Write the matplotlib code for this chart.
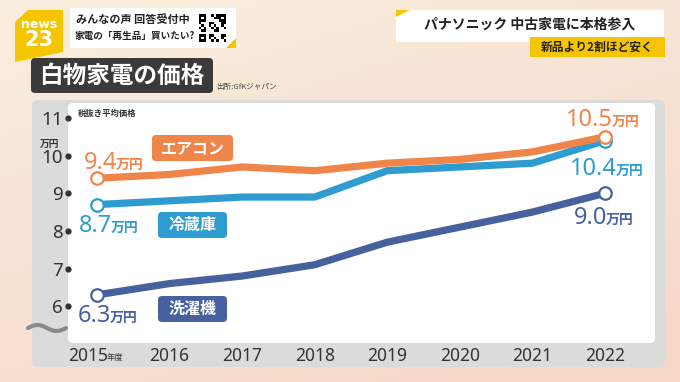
import numpy as np
import matplotlib.pyplot as plt
from matplotlib.patches import FancyBboxPatch, Polygon, Rectangle

plt.rcParams['font.family'] = ['Noto Sans CJK JP', 'DejaVu Sans']

# data (万円, 税抜き平均価格)
years = [2015, 2016, 2017, 2018, 2019, 2020, 2021, 2022]
aircon = [9.4, 9.5, 9.7, 9.6, 9.8, 9.9, 10.1, 10.5]
fridge = [8.7, 8.8, 8.9, 8.9, 9.6, 9.7, 9.8, 10.4]
washer = [6.3, 6.6, 6.8, 7.1, 7.7, 8.1, 8.5, 9.0]
yticks = [6, 7, 8, 9, 10, 11]

c_air = '#F0854A'
c_fri = '#2E9BD1'
c_was = '#47609E'
c_txt = '#333333'

fig = plt.figure(figsize=(6.8, 3.82), dpi=100)

# background in pixel coords
bg = fig.add_axes([0, 0, 1, 1])
bg.set_xlim(0, 680)
bg.set_ylim(382, 0)
bg.axis('off')
grad = np.linspace(0, 1, 200)
gx, gy = np.meshgrid(grad, grad)
t = np.clip(0.35 * gx + 0.65 * gy, 0, 1)
top = np.array([0.975, 0.935, 0.87])
bot = np.array([0.965, 0.84, 0.78])
img = top[None, None, :] * (1 - t[..., None]) + bot[None, None, :] * t[..., None]
bg.imshow(img, extent=[0, 680, 382, 0], aspect='auto', zorder=0)

# chart panel
bg.add_patch(FancyBboxPatch((32, 100), 633, 267, boxstyle='round,pad=0,rounding_size=6',
                            fc='#D9DCDB', ec='none', zorder=1))
bg.add_patch(FancyBboxPatch((68, 103), 587, 240, boxstyle='round,pad=0,rounding_size=5',
                            fc='white', ec='none', zorder=2))
wx = np.linspace(28, 66, 60)
bg.plot(wx, 328 - 3 * np.sin((wx - 28) / 38 * 2 * np.pi), color='#8A8A8A', lw=3, zorder=3,
        solid_capstyle='round')

# header: logo
bg.add_patch(Polygon([(15, 22), (28, 10), (63, 10), (63, 52), (15, 62)], closed=True,
                     fc='#F5C600', ec='none', zorder=3))
bg.text(39, 24, 'news', color='white', fontsize=9, fontweight='bold', ha='center', va='center',
        family=['DejaVu Sans'], zorder=4)
bg.text(39, 40, '23', color='white', fontsize=15, fontweight='bold', ha='center', va='center',
        family=['DejaVu Sans'], zorder=4)

# header: white box with QR
bg.add_patch(Rectangle((70, 8), 166, 40, fc='white', ec='none', zorder=3))
bg.add_patch(Polygon([(226, 48), (236, 48), (236, 38)], closed=True, fc='#F5C600', ec='none', zorder=4))
bg.text(76, 19, 'みんなの声 回答受付中', color='#222222', fontsize=8, fontweight='bold',
        va='center', zorder=4)
bg.text(75, 36, '家電の「再生品」買いたい?', color='#222222', fontsize=6.9, fontweight='bold',
        va='center', zorder=4)
qi, qj = np.indices((11, 11))
qr = ((qi * 7 + qj * 3 + qi * qj) % 5 < 2).astype(float)
for (a, b) in [(0, 0), (0, 8), (8, 0)]:
    qr[a:a + 3, b:b + 3] = 1
    qr[a + 1, b + 1] = 0
bg.imshow(1 - qr, cmap='gray', extent=[199, 226, 42, 14], interpolation='nearest', zorder=4)

# title box
bg.add_patch(FancyBboxPatch((31, 58), 182, 35, boxstyle='round,pad=0,rounding_size=4',
                            fc='#3A3A3A', ec='none', zorder=3))
bg.text(122, 75.5, '白物家電の価格', color='white', fontsize=17, fontweight='bold',
        ha='center', va='center', zorder=4)
bg.text(216, 87, '出所:GfKジャパン', color='#444444', fontsize=5.5, va='center', zorder=4)

# header right
bg.add_patch(Rectangle((396, 10), 268, 32, fc='white', ec='none', zorder=3))
bg.add_patch(Polygon([(396, 10), (410, 10), (396, 17)], closed=True, fc='#F5C600', ec='none', zorder=4))
bg.text(530, 25, 'パナソニック 中古家電に本格参入', color='#222222', fontsize=10,
        fontweight='bold', ha='center', va='center', zorder=4)
bg.add_patch(Rectangle((530, 37), 135, 20, fc='#F5C600', ec='none', zorder=4))
bg.text(597, 47, '新品より2割ほど安く', color='#222222', fontsize=8.5, fontweight='bold',
        ha='center', va='center', zorder=5)

# data axes aligned with white area
ax = fig.add_axes([68 / 680, 1 - 343 / 382, 587 / 680, 240 / 382])
ax.set_facecolor('none')
for s in ax.spines.values():
    s.set_visible(False)
ax.set_xlim(2014.6, 2022.69)
ax.set_ylim(5.02, 11.4)

for vals, col in [(washer, c_was), (fridge, c_fri), (aircon, c_air)]:
    ax.plot(years, vals, color=col, lw=5.2, solid_joinstyle='miter', zorder=3)
    ax.plot([years[0], years[-1]], [vals[0], vals[-1]], 'o', ms=9, mfc='white', mec=col,
            mew=1.6, zorder=4)

ax.set_yticks(yticks)
ax.set_yticklabels([str(v) for v in yticks], fontsize=13.5, color=c_txt, family=['Noto Sans'],
                   fontweight='medium')
ax.tick_params(axis='y', length=0, pad=3.5)
ax.plot([ax.get_xlim()[0]] * len(yticks), yticks, 'o', ms=3.5, color=c_txt, clip_on=False, zorder=5)
ax.set_xticks([])
ax.text(-0.031, 0.83, '万円', transform=ax.transAxes, fontsize=7, fontweight='bold',
        color=c_txt, ha='center', va='center')
ax.text(0.017, 0.955, '税抜き平均価格', transform=ax.transAxes, fontsize=6, fontweight='bold',
        color=c_txt, va='center')

# year labels
for y in years:
    label = str(y)
    dx = -9 if y == years[0] else 0
    ax.annotate(label, (y, 0), xycoords=('data', 'axes fraction'), xytext=(dx, -13),
                textcoords='offset pixels', ha='center', va='center', fontsize=12.5,
                color=c_txt, family=['Noto Sans'])
ax.annotate('年度', (years[0], 0), xycoords=('data', 'axes fraction'), xytext=(10, -14),
            textcoords='offset pixels', ha='left', va='center', fontsize=6, color=c_txt)


def value_label(x, v, col, dx, dy):
    ax.annotate(f'{v:.1f}', (x, v), xytext=(dx, dy), textcoords='offset pixels',
                ha='right', va='baseline', fontsize=17, color=col, family=['Noto Sans'])
    ax.annotate('万円', (x, v), xytext=(dx - 1, dy), textcoords='offset pixels',
                ha='left', va='baseline', fontsize=10, color=col, fontweight='bold')


value_label(years[0], aircon[0], c_air, 20, 9)
value_label(years[0], fridge[0], c_fri, 15, -27)
value_label(years[0], washer[0], c_was, 14, -27)
value_label(years[-1], aircon[-1], c_air, 8, 11)
value_label(years[-1], fridge[-1], c_fri, 12, -34)
value_label(years[-1], washer[-1], c_was, 2, -31)

# series name boxes
for name, col, x0, y0, w in [('エアコン', c_air, 152, 135, 81),
                             ('冷蔵庫', c_fri, 158, 212, 69),
                             ('洗濯機', c_was, 158, 296, 69)]:
    bg.add_patch(FancyBboxPatch((x0, y0), w, 26, boxstyle='round,pad=0,rounding_size=4',
                                fc=col, ec='none', zorder=6))
    bg.text(x0 + w / 2, y0 + 13, name, color='white', fontsize=11.5, fontweight='bold',
            ha='center', va='center', zorder=7)

fig.savefig('out.png', dpi=100)
